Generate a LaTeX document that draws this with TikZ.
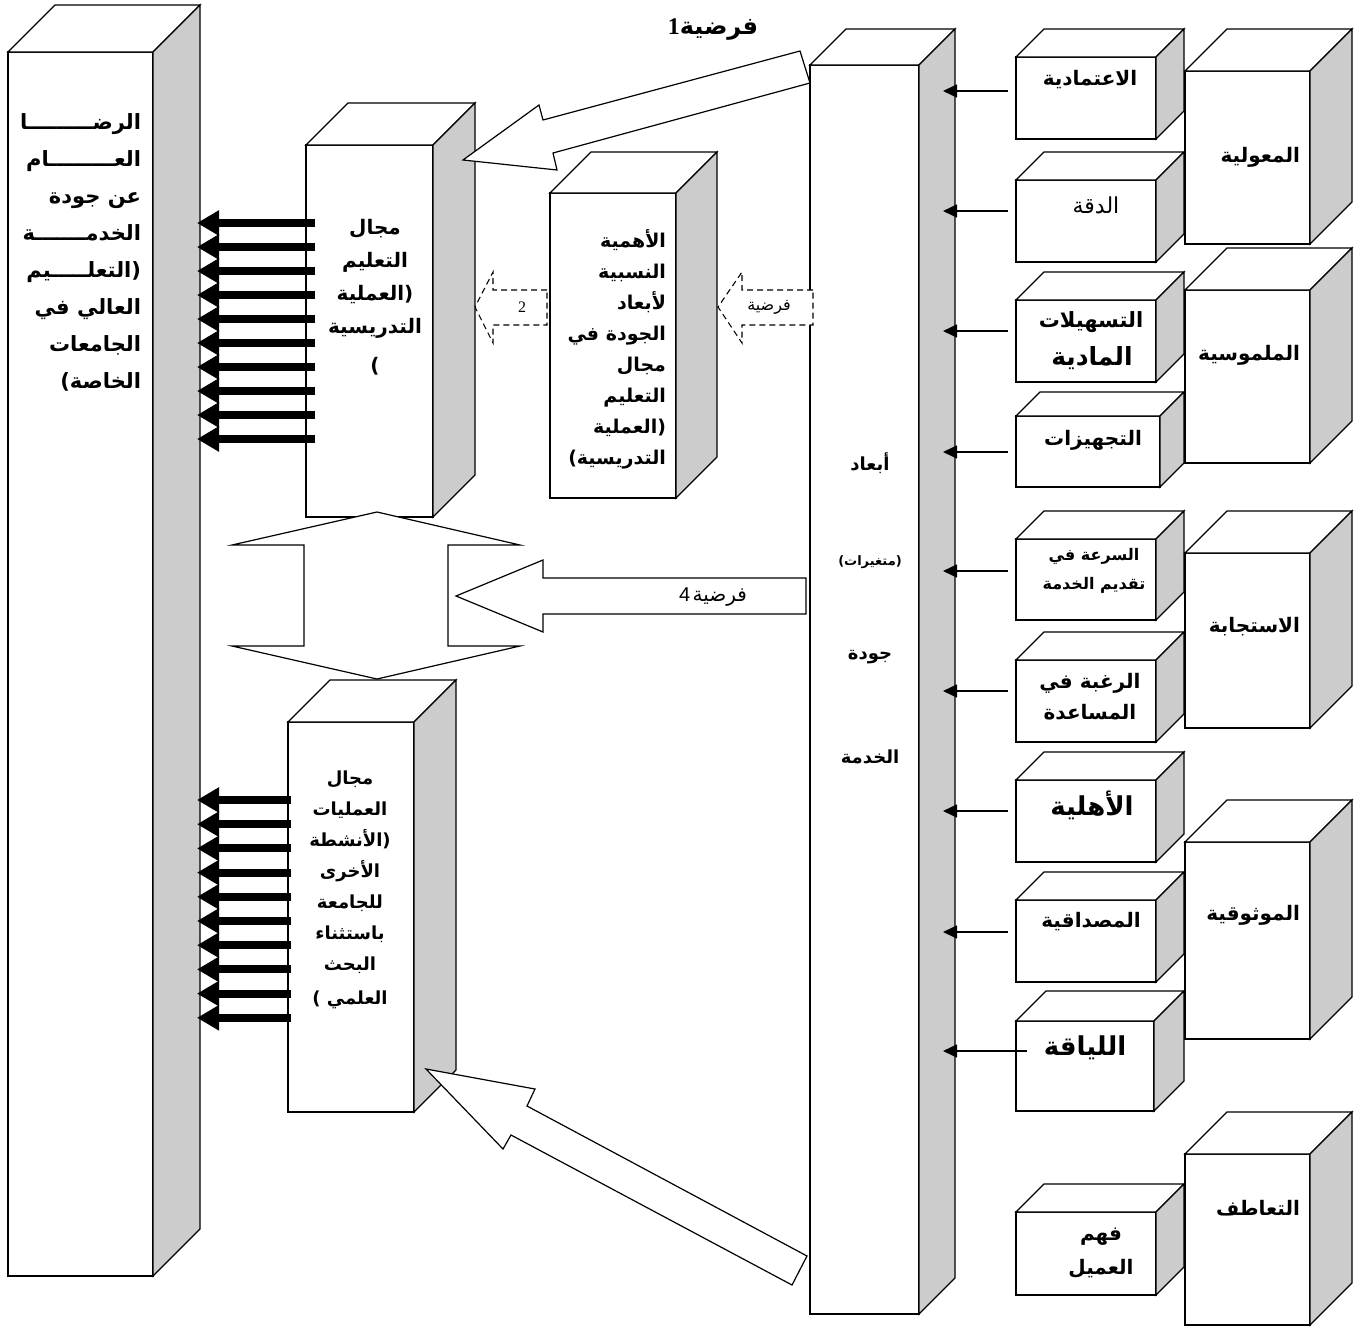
\documentclass[tikz,border=0pt]{standalone}
\usepackage{fontspec}
\usetikzlibrary{arrows.meta,calc}
\TeXXeTstate=1
\setmainfont{Liberation Serif}
\newfontfamily\ar[Script=Arabic]{DejaVu Sans}
\newfontfamily\pf{DejaVu Sans}
\newfontfamily\arsans{Liberation Sans}
\definecolor{sidegray}{HTML}{CCCCCC}
\newcommand\LP{\hbox{\pf(}}
\newcommand\RP{\hbox{\pf)}}
\newcommand\mycuboid[6]{%
  \pgfmathsetmacro\cw{#4-#2}\pgfmathsetmacro\ch{#5-#3}%
  \node[frontface, minimum width=\cw pt, minimum height=\ch pt, anchor=north west] (#1) at (#2,#3) {};
  \draw[topface] (#1.north west) -- ++(#6,-#6) -- ++(\cw,0) -- (#1.north east) -- cycle;
  \draw[sideface] (#1.north east) -- ++(#6,-#6) -- ++(0,\ch) -- (#1.south east) -- cycle;
}
\begin{document}
\begin{tikzpicture}[x=1pt,y=-1pt,
  frontface/.style={draw, fill=white, line width=1.3pt, inner sep=0pt, outer sep=0pt},
  topface/.style={draw, fill=white, line width=1.3pt},
  sideface/.style={draw, fill=sidegray, line width=1.3pt},
  bigarrow/.style={draw, fill=white, line width=1.2pt, line join=miter},
  dasharrow/.style={draw, fill=white, line width=1.1pt, dash pattern=on 6pt off 4pt},
  thickarrow/.style={line width=8pt, -{Triangle[length=22pt,width=24pt]}},
  thinarrow/.style={line width=1.5pt, -{Triangle[length=14pt,width=13pt]}},
  lbl/.style={inner sep=0pt, outer sep=0pt},
  bt/.style={lbl, font=\ar\bfseries\fontsize{20}{24}\selectfont},
]
\fill[white] (0,0) rectangle (1360,1328);
\useasboundingbox (0,0) rectangle (1360,1328);

% main boxes
\mycuboid{lbox}{8}{52}{153}{1276}{47}
\mycuboid{teach}{306}{145}{433}{517}{42}
\mycuboid{rel}{550}{193}{676}{498}{41}
\mycuboid{dims}{810}{65}{919}{1314}{36}
\mycuboid{ops}{288}{722}{414}{1112}{42}
% small boxes
\mycuboid{s1}{1016}{57}{1156}{139}{28}
\mycuboid{s2}{1016}{180}{1156}{262}{28}
\mycuboid{s3}{1016}{300}{1156}{382}{28}
\mycuboid{s4}{1016}{416}{1160}{487}{24}
\mycuboid{s5}{1016}{539}{1156}{620}{28}
\mycuboid{s6}{1016}{660}{1156}{742}{28}
\mycuboid{s7}{1016}{780}{1156}{862}{28}
\mycuboid{s8}{1016}{900}{1156}{982}{28}
\mycuboid{s9}{1016}{1021}{1154}{1111}{30}
\mycuboid{s10}{1016}{1212}{1156}{1295}{28}
% big boxes
\mycuboid{b1}{1185}{71}{1310}{244}{42}
\mycuboid{b2}{1185}{290}{1310}{463}{42}
\mycuboid{b3}{1185}{553}{1310}{728}{42}
\mycuboid{b4}{1185}{842}{1310}{1039}{42}
\mycuboid{b5}{1185}{1154}{1310}{1325}{42}

% thick arrows
\coordinate (tstart) at (315,0);
\coordinate (ltip) at (197,0);
\coordinate (ostart) at (291,0);
\foreach \k in {0,...,9}{
  \path (0,223+24*\k) coordinate (ya);
  \draw[thickarrow] (tstart |- ya) -- (ltip |- ya);
  \path (0,800+24.2*\k) coordinate (yb);
  \draw[thickarrow] (ostart |- yb) -- (ltip |- yb);
}
% thin arrows into the dimensions column
\coordinate (sstart) at (1008,0);
\coordinate (stip) at (943,0);
\foreach \y in {91,211,331,452,571,691,811,932}{
  \path (0,\y) coordinate (yc);
  \draw[thinarrow] (sstart |- yc) -- (stip |- yc);
}
\coordinate (s9start) at (1027,1051);
\draw[thinarrow] (s9start) -- (stip |- s9start);

% big arrows
\draw[bigarrow] (800,51) -- (543,120) -- (539,105) -- (463,160) -- (557,170) -- (553,153) -- (810,83) -- cycle;
\draw[bigarrow] (807,1256) -- (527,1106) -- (535,1089) -- (426,1069) -- (503,1149) -- (511,1135) -- (792,1285) -- cycle;
\draw[bigarrow] (806,578) -- (543,578) -- (543,560) -- (456,596) -- (543,632) -- (543,614) -- (806,614) -- cycle;
\draw[bigarrow] (377,512) -- (520,545) -- (448,545) -- (448,646) -- (520,646) -- (377,679) -- (232,646) -- (304,646) -- (304,545) -- (232,545) -- cycle;
% dashed arrows
\draw[dasharrow] (547,290) -- (493,290) -- (493,272) -- (475,307) -- (493,343) -- (493,325) -- (547,325) -- cycle;
\draw[dasharrow] (813,290) -- (742,290) -- (742,272) -- (718,307) -- (742,343) -- (742,325) -- (813,325) -- cycle;

% texts
\node[lbl, font=\ar\bfseries\fontsize{21}{37}\selectfont, align=right, anchor=east] (sattxt) at (141,252) {%
الرضـــــــــا\\
العـــــــــام\\
\beginR عن جودة\endR\\
الخدمـــــــة\\
\hbox{التعلـــــيم}\RP\\
\beginR العالي في\endR\\
الجامعات\\
\LP\hbox{الخاصة}};

\node[lbl, font=\ar\bfseries\fontsize{20}{33}\selectfont, align=center] (teachtxt) at (375,297) {مجال\\التعليم\\\hbox{العملية}\RP\\التدريسية\\[6pt]\LP};

\node[lbl, font=\ar\bfseries\fontsize{19}{31}\selectfont, align=right, anchor=east] (reltxt) at (666,349) {الأهمية\\النسبية\\لأبعاد\\\beginR الجودة في\endR\\مجال\\التعليم\\\hbox{العملية}\RP\\\LP\hbox{التدريسية}};

\node[lbl, font=\ar\bfseries\fontsize{18}{31}\selectfont, align=center] (opstxt) at (350,890) {مجال\\العمليات\\\hbox{الأنشطة}\RP\\الأخرى\\للجامعة\\باستثناء\\البحث\\[3pt]\LP\ \hbox{العلمي}};

\node[lbl, font=\ar\bfseries\fontsize{18}{22}\selectfont] (d1) at (870,463) {أبعاد};
\node[lbl, font=\ar\bfseries\fontsize{13}{16}\selectfont] (d2) at (870,562) {\LP\hbox{متغيرات}\RP};
\node[lbl, font=\ar\bfseries\fontsize{18}{22}\selectfont] (d3) at (870,657) {جودة};
\node[lbl, font=\ar\bfseries\fontsize{18}{22}\selectfont] (d4) at (870,757) {الخدمة};

\node[bt] (t1) at (1090,80) {الاعتمادية};
\node[lbl, font=\ar\fontsize{22}{26}\selectfont] (t2) at (1096,205) {الدقة};
\node[lbl, font=\ar\bfseries\fontsize{21}{26}\selectfont] (t3a) at (1091,322) {التسهيلات};
\node[lbl, font=\ar\bfseries\fontsize{25}{30}\selectfont] (t3b) at (1092,358) {المادية};
\node[bt] (t4) at (1093,440) {التجهيزات};
\node[lbl, font=\ar\bfseries\fontsize{16}{29}\selectfont, align=center] (t5) at (1094,571) {\beginR السرعة في\endR\\\beginR تقديم الخدمة\endR};
\node[lbl, font=\ar\bfseries\fontsize{20}{31}\selectfont, align=center] (t6) at (1090,697) {\beginR الرغبة في\endR\\المساعدة};
\node[lbl, font=\ar\bfseries\fontsize{26}{30}\selectfont] (t7) at (1092,805) {الأهلية};
\node[bt] (t8) at (1091,922) {المصداقية};
\node[lbl, font=\ar\bfseries\fontsize{26}{30}\selectfont] (t9) at (1085,1048) {اللياقة};
\node[lbl, font=\ar\bfseries\fontsize{20}{34}\selectfont, align=center] (t10) at (1101,1253) {فهم\\العميل};

\node[bt, anchor=east] (g1) at (1300,157) {المعولية};
\node[bt, anchor=east] (g2) at (1300,355) {الملموسية};
\node[bt, anchor=east] (g3) at (1300,627) {الاستجابة};
\node[bt, anchor=east] (g4) at (1300,915) {الموثوقية};
\node[bt, anchor=east] (g5) at (1300,1208) {التعاطف};

\node[lbl] (h1) at (713,30) {\hbox{\rmfamily\bfseries\fontsize{24}{28}\selectfont 1}\hbox{\ar\bfseries\fontsize{24}{28}\selectfont فرضية}};
\node[lbl, font=\ar\fontsize{16}{18}\selectfont] (h3) at (769,307) {فرضية};
\node[lbl, font=\rmfamily\fontsize{16}{18}\selectfont] (h2) at (522,307) {2};
\node[lbl] (h4) at (713,597) {\hbox{\arsans\fontsize{20}{22}\selectfont 4}\ \hbox{\ar\fontsize{20}{22}\selectfont فرضية}};
\end{tikzpicture}
\end{document}
